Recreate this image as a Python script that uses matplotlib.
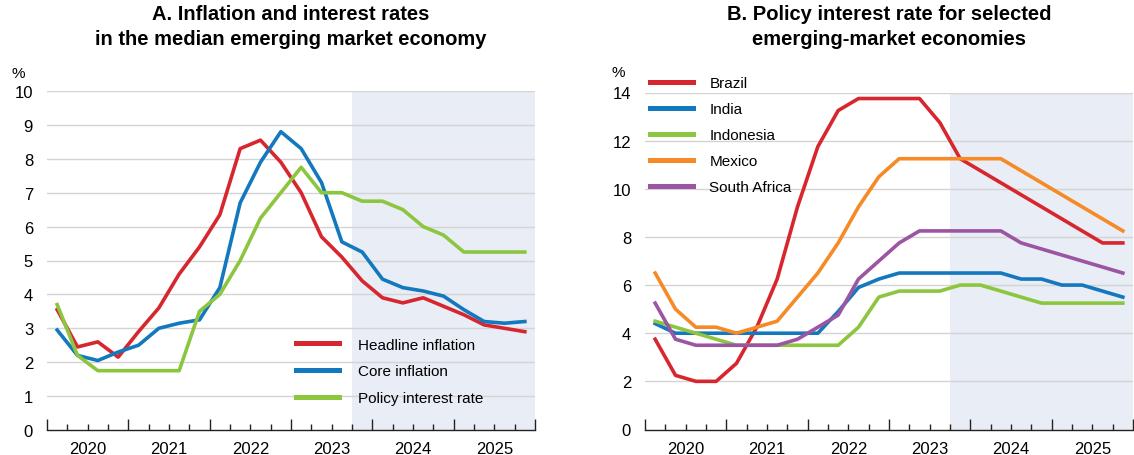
import matplotlib
matplotlib.use("Agg")
import matplotlib.pyplot as plt
import numpy as np
import pandas as pd

plt.rcParams['font.family'] = ['Liberation Sans', 'DejaVu Sans']

# Quarterly observations and projections, 2020Q1-2025Q4
quarters = pd.period_range("2020Q1", "2025Q4", freq="Q")
x = np.asarray(quarters.year + (quarters.quarter - 0.5) / 4, dtype=float)
years = list(range(2020, 2026))
projection_start = 2023.75

# Panel A: median emerging market economy, %
headline_inflation = [3.55, 2.45, 2.6, 2.15, 2.9, 3.6, 4.6, 5.4, 6.35, 8.3, 8.55, 7.9,
                      7.0, 5.7, 5.1, 4.4, 3.9, 3.75, 3.9, 3.65, 3.4, 3.1, 3.0, 2.9]
core_inflation = [2.95, 2.2, 2.05, 2.3, 2.5, 3.0, 3.15, 3.25, 4.2, 6.7, 7.9, 8.8,
                  8.3, 7.3, 5.55, 5.25, 4.45, 4.2, 4.1, 3.95, 3.55, 3.2, 3.15, 3.2]
policy_rate_median = [3.7, 2.2, 1.75, 1.75, 1.75, 1.75, 1.75, 3.5, 4.0, 5.0, 6.25, 7.0,
                      7.75, 7.0, 7.0, 6.75, 6.75, 6.5, 6.0, 5.75, 5.25, 5.25, 5.25, 5.25]

# Panel B: policy interest rates, %
brazil = [3.75, 2.25, 2.0, 2.0, 2.75, 4.25, 6.25, 9.25, 11.75, 13.25, 13.75, 13.75,
          13.75, 13.75, 12.75, 11.25, 10.75, 10.25, 9.75, 9.25, 8.75, 8.25, 7.75, 7.75]
india = [4.4, 4.0, 4.0, 4.0, 4.0, 4.0, 4.0, 4.0, 4.0, 4.9, 5.9, 6.25,
         6.5, 6.5, 6.5, 6.5, 6.5, 6.5, 6.25, 6.25, 6.0, 6.0, 5.75, 5.5]
indonesia = [4.5, 4.25, 4.0, 3.75, 3.5, 3.5, 3.5, 3.5, 3.5, 3.5, 4.25, 5.5,
             5.75, 5.75, 5.75, 6.0, 6.0, 5.75, 5.5, 5.25, 5.25, 5.25, 5.25, 5.25]
mexico = [6.5, 5.0, 4.25, 4.25, 4.0, 4.25, 4.5, 5.5, 6.5, 7.75, 9.25, 10.5,
          11.25, 11.25, 11.25, 11.25, 11.25, 11.25, 10.75, 10.25, 9.75, 9.25, 8.75, 8.25]
south_africa = [5.25, 3.75, 3.5, 3.5, 3.5, 3.5, 3.5, 3.75, 4.25, 4.75, 6.25, 7.0,
                7.75, 8.25, 8.25, 8.25, 8.25, 8.25, 7.75, 7.5, 7.25, 7.0, 6.75, 6.5]

RED = "#d7262e"
BLUE = "#1378bd"
GREEN = "#8cc63f"
ORANGE = "#f58a26"
PURPLE = "#9b55a3"
SHADE = "#e9edf5"
GRID = "#d4d4d4"
LW = 2.6

fig = plt.figure(figsize=(11.34, 4.56), dpi=100)
W, H = 1134, 456
axA = fig.add_axes([47 / W, 1 - 431 / H, 488 / W, 339 / H])
axB = fig.add_axes([645 / W, 1 - 430.5 / H, 488 / W, 337 / H])


def style_axis(ax, ymax, ystep, pct_x, pct_y):
    ax.set_xlim(2020, 2026)
    ax.set_ylim(0, ymax)
    ax.axvspan(projection_start, 2026, color=SHADE, zorder=0, lw=0)
    for v in np.arange(ystep, ymax + 0.01, ystep):
        ax.axhline(v, color=GRID, lw=1.0, zorder=1)
    for s in ("top", "right", "left"):
        ax.spines[s].set_visible(False)
    ax.spines["bottom"].set_color("#222222")
    ax.spines["bottom"].set_linewidth(1.0)
    ax.spines["bottom"].set_zorder(5)
    ax.set_yticks(np.arange(0, ymax + 0.01, ystep))
    ax.set_yticklabels([f"{v:g}" for v in np.arange(0, ymax + 0.01, ystep)])
    ax.tick_params(axis="y", length=0, pad=10, labelsize=12)
    ax.set_xticks(range(2020, 2027))
    ax.set_xticklabels([])
    ax.set_xticks(np.arange(2020, 2026.01, 0.25), minor=True)
    ax.tick_params(axis="x", which="major", direction="in", length=8, width=1.0, color="#222222")
    ax.tick_params(axis="x", which="minor", direction="in", length=4, width=1.0, color="#222222")
    for yr in years:
        ax.annotate(str(yr), xy=(yr + 0.5, 0), xycoords=ax.get_xaxis_transform(),
                    xytext=(0, -8), textcoords="offset points",
                    ha="center", va="top", fontsize=12)
    ax.annotate("%", xy=(0, 1), xycoords="axes fraction",
                xytext=(pct_x, pct_y), textcoords="offset pixels",
                fontsize=11, ha="left", va="center")


style_axis(axA, 10, 1, -35, 18)
style_axis(axB, 14, 2, -34, 20)

# Panel A
axA.plot(x, headline_inflation, color=RED, lw=LW, zorder=3, label="Headline inflation")
axA.plot(x, core_inflation, color=BLUE, lw=LW, zorder=3, label="Core inflation")
axA.plot(x, policy_rate_median, color=GREEN, lw=LW, zorder=3, label="Policy interest rate")
legA = axA.legend(loc="upper left", bbox_to_anchor=(0.51, 0.272), frameon=False,
                  fontsize=11, handlelength=2.8, handletextpad=1.25, labelspacing=0.82,
                  borderpad=0, borderaxespad=0)
for h in legA.get_lines():
    h.set_linewidth(3.6)

# Panel B
axB.plot(x, brazil, color=RED, lw=LW, zorder=3, label="Brazil")
axB.plot(x, india, color=BLUE, lw=LW, zorder=3, label="India")
axB.plot(x, indonesia, color=GREEN, lw=LW, zorder=3, label="Indonesia")
axB.plot(x, mexico, color=ORANGE, lw=LW, zorder=3, label="Mexico")
axB.plot(x, south_africa, color=PURPLE, lw=LW, zorder=3, label="South Africa")
legB = axB.legend(loc="upper left", bbox_to_anchor=(0.01, 1.048), frameon=False,
                  fontsize=11, handlelength=2.8, handletextpad=1.1, labelspacing=0.78,
                  borderpad=0, borderaxespad=0)
for h in legB.get_lines():
    h.set_linewidth(3.6)

fig.text(291 / W, 1 - 27 / H,
         "A. Inflation and interest rates\nin the median emerging market economy",
         ha="center", va="center", fontsize=14.5, fontweight="bold", linespacing=1.35)
fig.text(889 / W, 1 - 27 / H,
         "B. Policy interest rate for selected\nemerging-market economies",
         ha="center", va="center", fontsize=14.5, fontweight="bold", linespacing=1.35)

fig.savefig("out.png", dpi=100)
